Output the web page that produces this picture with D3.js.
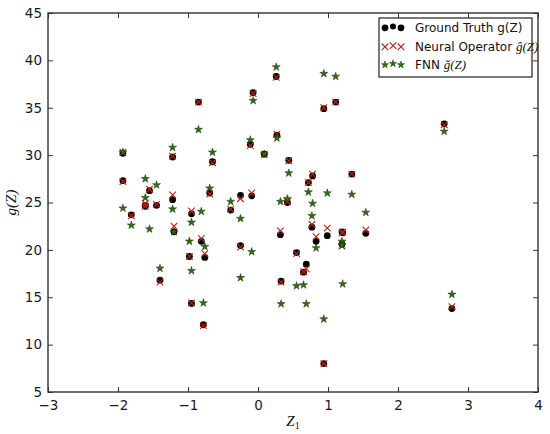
<!DOCTYPE html>
<html>
<head>
<meta charset="utf-8">
<script src="https://cdn.jsdelivr.net/npm/d3@7"></script>
<style>
  html, body { margin: 0; padding: 0; background: #fff; }
  svg { display: block; }
</style>
</head>
<body>
<svg id="chart" width="550" height="434"></svg>
<script>
const z1 = [-1.93,-1.93,-1.81,-1.61,-1.61,-1.55,-1.45,-1.40,-1.22,-1.22,-1.20,-0.95,-0.95,-0.98,-0.85,-0.81,-0.78,-0.76,-0.65,-0.69,-0.39,-0.25,-0.25,-0.09,-0.11,-0.07,0.09,0.26,0.27,0.32,0.33,0.42,0.44,0.55,0.65,0.69,0.72,0.77,0.78,0.83,0.94,0.94,0.99,1.11,1.20,1.20,1.21,1.34,1.54,2.66,2.77];
const groundTruth = [30.2,27.3,23.7,24.7,24.6,26.25,24.7,16.8,29.8,25.3,21.9,23.8,14.35,19.3,35.6,20.9,12.1,19.2,29.3,26.0,24.2,25.75,20.45,25.7,31.15,36.6,30.1,38.3,32.1,21.6,16.7,25.0,29.45,19.7,17.65,18.5,27.1,22.4,27.8,20.9,34.9,8.0,21.5,35.6,21.9,20.6,21.8,28.0,21.75,33.3,13.8];
const neuralOperator = [30.3,27.2,23.6,24.9,24.6,26.4,24.8,16.6,29.9,25.8,22.5,24.1,14.4,19.3,35.6,21.2,12.0,19.6,29.2,25.9,24.3,25.4,20.3,26.0,31.0,36.5,30.1,38.2,32.2,22.0,16.6,25.1,29.4,19.6,17.7,18.0,27.1,22.7,28.0,21.4,35.0,8.0,22.3,35.6,21.8,20.4,21.9,28.0,22.1,33.2,14.0];
const fnn = [30.3,24.4,22.6,27.5,25.5,22.2,26.85,18.05,30.8,24.3,21.9,22.9,17.8,20.9,32.7,24.05,14.4,20.35,30.3,26.5,25.1,23.3,17.05,19.8,31.6,35.75,30.1,39.3,31.8,25.1,14.3,25.4,28.1,16.2,16.3,14.3,26.1,23.6,24.9,20.2,12.7,38.6,26.0,38.3,20.9,20.5,16.4,25.85,23.95,32.5,15.3];
const xTicks = [-3,-2,-1,0,1,2,3,4];
const yTicks = [5,10,15,20,25,30,35,40,45];
const legendLabels = ["Ground Truth g(Z)", "Neural Operator ", "FNN "];

const svg = d3.select("#chart");
const W = 550, H = 434;
const m = {left: 48, right: 12, top: 13, bottom: 42};
const x = d3.scaleLinear().domain([-3, 4]).range([m.left, W - m.right]);
const y = d3.scaleLinear().domain([5, 45]).range([H - m.bottom, m.top]);

const tickLen = 5;
const fmt = d => (d < 0 ? "\u2212" + Math.abs(d) : String(d));

const gx = svg.append("g").attr("transform", `translate(0,${H - m.bottom})`)
  .call(d3.axisBottom(x).tickValues(xTicks).tickSizeInner(-tickLen).tickSizeOuter(0).tickPadding(8).tickFormat(fmt));
const gxt = svg.append("g").attr("transform", `translate(0,${m.top})`)
  .call(d3.axisTop(x).tickValues(xTicks).tickSizeInner(-tickLen).tickSizeOuter(0).tickFormat(""));
const gy = svg.append("g").attr("transform", `translate(${m.left},0)`)
  .call(d3.axisLeft(y).tickValues(yTicks).tickSizeInner(-tickLen).tickSizeOuter(0).tickPadding(6).tickFormat(fmt));
const gyr = svg.append("g").attr("transform", `translate(${W - m.right},0)`)
  .call(d3.axisRight(y).tickValues(yTicks).tickSizeInner(-tickLen).tickSizeOuter(0).tickFormat(""));
[gx, gxt, gy, gyr].forEach(g => {
  g.select(".domain").remove();
  g.selectAll(".tick line").attr("stroke", "#333").attr("stroke-width", 1);
  g.selectAll(".tick text").attr("fill", "#1a1a1a").style("font-family", "DejaVu Sans").style("font-size", "13.5px");
});

svg.append("rect")
  .attr("x", m.left).attr("y", m.top)
  .attr("width", W - m.left - m.right).attr("height", H - m.top - m.bottom)
  .attr("fill", "none").attr("stroke", "#333").attr("stroke-width", 1.4);

const idx = d3.range(z1.length);
const starPath = d3.symbol().type(d3.symbolStar).size(20)();
const starPathSmall = d3.symbol().type(d3.symbolStar).size(16)();
const circR = 3.4;
const xs = 3.3;
const xPath = `M${-xs},${-xs}L${xs},${xs}M${-xs},${xs}L${xs},${-xs}`;
const starFill = "#2d6e10", starEdge = "#1a3008";

const plot = svg.append("g");
plot.selectAll("circle.gt").data(idx).join("circle")
  .attr("class", "gt")
  .attr("cx", i => x(z1[i])).attr("cy", i => y(groundTruth[i]))
  .attr("r", circR).attr("fill", "#000");
plot.selectAll("path.no").data(idx).join("path")
  .attr("class", "no")
  .attr("transform", i => `translate(${x(z1[i])},${y(neuralOperator[i])})`)
  .attr("d", xPath).attr("stroke", "#c8200e").attr("stroke-width", 1.1).attr("fill", "none");
plot.selectAll("path.fnn").data(idx).join("path")
  .attr("class", "fnn")
  .attr("transform", i => `translate(${x(z1[i])},${y(fnn[i])})`)
  .attr("d", starPath).attr("fill", starFill).attr("stroke", starEdge).attr("stroke-width", 0.5);

const lg = svg.append("g");
lg.append("rect").attr("x", 379).attr("y", 18).attr("width", 153).attr("height", 59)
  .attr("fill", "#fff").attr("stroke", "#222").attr("stroke-width", 1.2);
const rowsY = [27, 46, 64];
const mx = [385, 393, 401];
const offs = [0.8, -0.4, 0.8];
mx.forEach((px, k) => {
  lg.append("circle").attr("cx", px).attr("cy", rowsY[0] + offs[k]).attr("r", k === 1 ? 3.0 : 3.4).attr("fill", "#000");
  lg.append("path").attr("transform", `translate(${px},${rowsY[1] + offs[k]})`).attr("d", xPath)
    .attr("stroke", "#c8200e").attr("stroke-width", 1.1).attr("fill", "none");
  lg.append("path").attr("transform", `translate(${px},${rowsY[2] + offs[k]})`).attr("d", starPathSmall)
    .attr("fill", starFill).attr("stroke", starEdge).attr("stroke-width", 0.5);
});
lg.append("text").attr("x", 415).attr("y", rowsY[0] + 4.5)
  .style("font-family", "DejaVu Sans").style("font-size", "12px").attr("fill", "#111").text(legendLabels[0]);
const t1 = lg.append("text").attr("x", 415).attr("y", rowsY[1] + 4.5)
  .style("font-family", "DejaVu Sans").style("font-size", "12px").attr("fill", "#111");
t1.append("tspan").text(legendLabels[1]);
t1.append("tspan").style("font-family", "Liberation Serif").style("font-style", "italic").style("font-size", "13px").text("\u011d(Z)");
const t2 = lg.append("text").attr("x", 415).attr("y", rowsY[2] + 4.5)
  .style("font-family", "DejaVu Sans").style("font-size", "12px").attr("fill", "#111");
t2.append("tspan").text(legendLabels[2]);
t2.append("tspan").style("font-family", "Liberation Serif").style("font-style", "italic").style("font-size", "13px").text("\u011f(Z)");

const xl = svg.append("text").attr("x", x(0.5)).attr("y", 426).attr("text-anchor", "middle")
  .style("font-family", "Liberation Serif").style("font-style", "italic").style("font-size", "15px").attr("fill", "#111");
xl.append("tspan").text("Z");
xl.append("tspan").attr("dy", 3).style("font-size", "10px").style("font-style", "normal").text("1");

svg.append("text").attr("transform", `translate(16,${(m.top + H - m.bottom) / 2}) rotate(-90)`)
  .attr("text-anchor", "middle")
  .style("font-family", "Liberation Serif").style("font-style", "italic").style("font-size", "15px").attr("fill", "#111")
  .text("g(Z)");
</script>
</body>
</html>
